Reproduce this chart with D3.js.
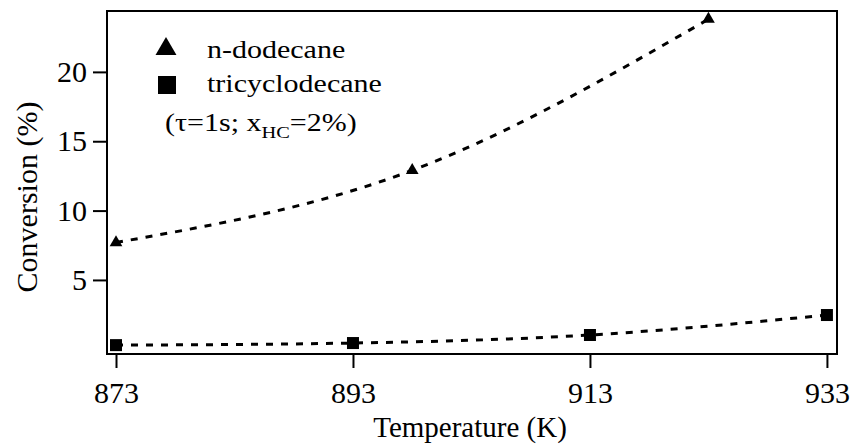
<!DOCTYPE html>
<html>
<head>
<meta charset="utf-8">
<script src="https://cdn.jsdelivr.net/npm/d3@7"></script>
<style>
  html, body { margin: 0; padding: 0; background: #fff; }
</style>
</head>
<body>
<svg id="chart" width="851" height="447"></svg>
<script>
// Conversion vs. temperature for two hydrocarbons
const dodecaneTemp = [873, 898, 923];
const dodecaneConv = [7.7, 12.9, 23.8];
const tcdTemp = [873, 893, 913, 933];
const tcdConv = [0.3, 0.45, 1.03, 2.47];
const xTickValues = [873, 893, 913, 933];
const yTickValues = [5, 10, 15, 20];
const seriesNames = ["n-dodecane", "tricyclodecane"];

const serif = "Liberation Serif";
const svg = d3.select("#chart");
const plot = { left: 107, right: 837, top: 11, bottom: 354 };

const x = d3.scaleLinear().domain([872.24, 933.85]).range([plot.left, plot.right]);
const y = d3.scaleLinear().domain([-0.34, 24.39]).range([plot.bottom, plot.top]);

// Frame
svg.append("rect")
  .attr("x", plot.left).attr("y", plot.top)
  .attr("width", plot.right - plot.left).attr("height", plot.bottom - plot.top)
  .attr("fill", "none").attr("stroke", "#000").attr("stroke-width", 2);

// Axes
const xAxis = svg.append("g")
  .attr("transform", `translate(0,${plot.bottom})`)
  .call(d3.axisBottom(x).tickValues(xTickValues).tickSize(14).tickPadding(14).tickFormat(d3.format("d")));
const yAxis = svg.append("g")
  .attr("transform", `translate(${plot.left},0)`)
  .call(d3.axisLeft(y).tickValues(yTickValues).tickSize(14).tickPadding(6).tickFormat(d3.format("d")));

[xAxis, yAxis].forEach(g => {
  g.attr("font-family", serif).attr("font-size", 30);
  g.select(".domain").remove();
  g.selectAll(".tick line").attr("stroke", "#000").attr("stroke-width", 2);
  g.selectAll(".tick text").attr("fill", "#000");
});

// Axis titles
svg.append("text")
  .attr("x", (plot.left + plot.right) / 2 - 2).attr("y", 437)
  .attr("text-anchor", "middle")
  .attr("font-family", serif)
  .attr("font-size", 29)
  .text("Temperature (K)");

svg.append("text")
  .attr("transform", "translate(37,197) rotate(-90)")
  .attr("text-anchor", "middle")
  .attr("font-family", serif)
  .attr("font-size", 30)
  .text("Conversion (%)");

// Dashed trend curves
const lineGen = d3.line().x(d => x(d[0])).y(d => y(d[1]));
svg.append("path")
  .datum(d3.zip(dodecaneTemp, dodecaneConv))
  .attr("d", lineGen.curve(d3.curveNatural))
  .attr("fill", "none").attr("stroke", "#000")
  .attr("stroke-width", 3).attr("stroke-dasharray", "7,8");
svg.append("path")
  .datum(d3.zip(tcdTemp, tcdConv))
  .attr("d", lineGen.curve(d3.curveMonotoneX))
  .attr("fill", "none").attr("stroke", "#000")
  .attr("stroke-width", 3).attr("stroke-dasharray", "7,8");

// Markers
const triangle = d3.symbol().type(d3.symbolTriangle).size(70);
svg.append("g").selectAll("path")
  .data(d3.zip(dodecaneTemp, dodecaneConv))
  .join("path")
  .attr("transform", d => `translate(${x(d[0])},${y(d[1])})`)
  .attr("d", triangle)
  .attr("fill", "#000");

const sq = 12;
svg.append("g").selectAll("rect")
  .data(d3.zip(tcdTemp, tcdConv))
  .join("rect")
  .attr("x", d => x(d[0]) - sq / 2).attr("y", d => y(d[1]) - sq / 2)
  .attr("width", sq).attr("height", sq)
  .attr("fill", "#000");

// Legend (text is drawn horizontally widened)
const legend = svg.append("g");
legend.append("path")
  .attr("transform", "translate(166,49)")
  .attr("d", d3.symbol().type(d3.symbolTriangle).size(190))
  .attr("fill", "#000");
legend.append("rect")
  .attr("x", 158).attr("y", 76).attr("width", 18).attr("height", 18)
  .attr("fill", "#000");

const legendSize = 25, widen = 1.2;
[[seriesNames[0], 207, 58], [seriesNames[1], 207, 92]].forEach(([label, xx, yy]) => {
  legend.append("text")
    .attr("transform", `translate(${xx},${yy}) scale(${widen},1)`)
    .attr("font-family", serif)
    .attr("font-size", legendSize)
    .text(label);
});

const cond = legend.append("text")
  .attr("transform", `translate(165,131) scale(${widen},1)`)
  .attr("font-family", serif)
  .attr("font-size", legendSize);
cond.append("tspan").text("(τ=1s; x");
cond.append("tspan").attr("dy", 7).attr("font-size", 17).text("HC");
cond.append("tspan").attr("dy", -7).text("=2%)");
</script>
</body>
</html>
